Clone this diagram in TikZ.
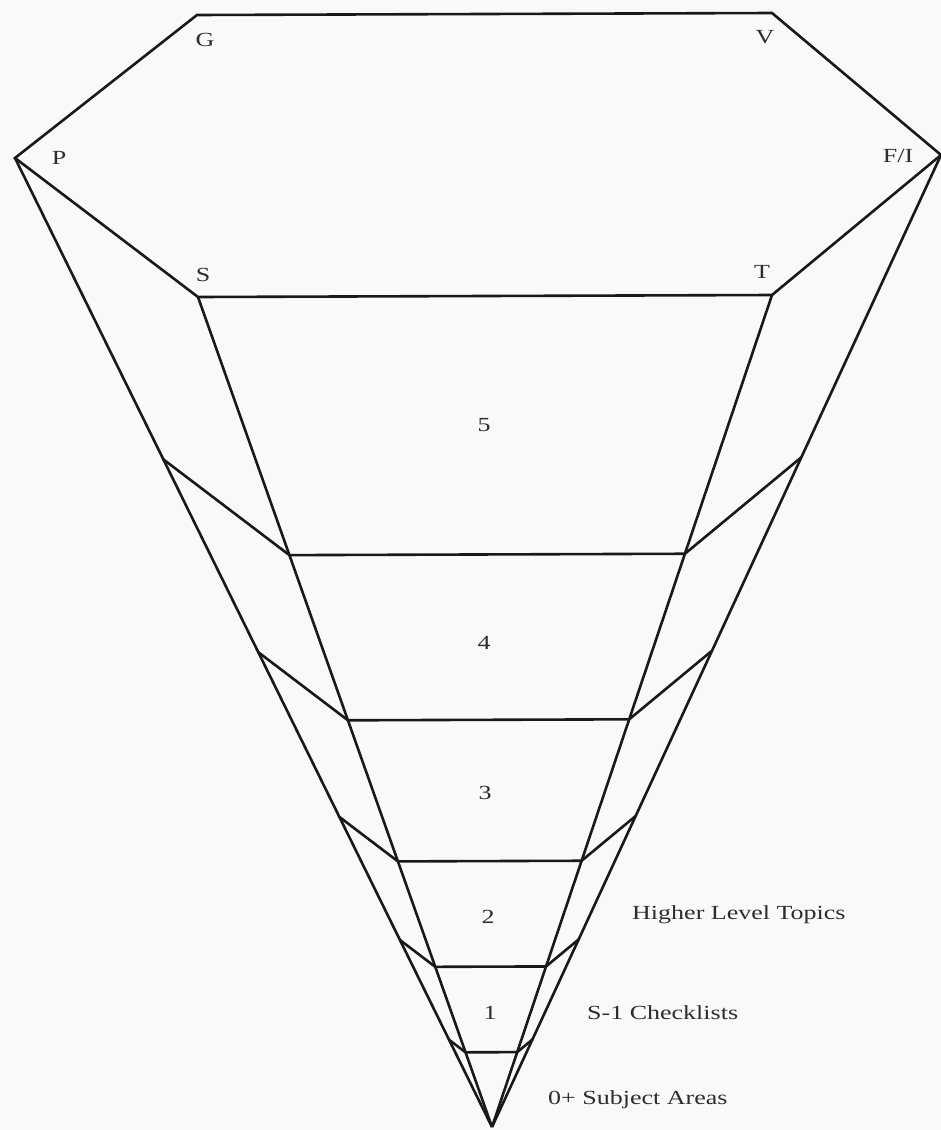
\documentclass[tikz,border=0pt]{standalone}
\usepackage{fontspec}
\setmainfont{Liberation Serif}
\newfontfamily\widefont[FakeStretch=1.3]{Liberation Serif}
\usetikzlibrary{calc}
\definecolor{paper}{RGB}{249,249,249}
\definecolor{ink}{RGB}{25,25,25}
\definecolor{txt}{RGB}{45,45,45}
\begin{document}
\begin{tikzpicture}[x=1pt,y=-1pt,
  edge/.style={line width=2.6pt, line join=miter, ink},
  lbl/.style={font=\widefont\fontsize{20}{24}\selectfont, text=txt, inner sep=0pt}]
\useasboundingbox[fill=paper] (0,0) rectangle (941,1130);
% corners
\coordinate (G) at (197,15);
\coordinate (V) at (772,13);
\coordinate (P) at (15,158);
\coordinate (FI) at (941,155);
\coordinate (S) at (198,297);
\coordinate (T) at (772,295);
\coordinate (A) at (492,1127);
% top face
\draw[edge] (P) -- (G) -- (V) -- (FI) -- (T) -- (S) -- cycle;
% edges to apex
\draw[edge] (P) -- (A);
\draw[edge] (S) -- (A);
\draw[edge] (T) -- (A);
\draw[edge] (FI) -- (A);
% levels
\foreach \s/\n in {0.689/a,0.49/b,0.32/c,0.193/d,0.09/e}{
  \coordinate (P\n) at ($(A)!\s!(P)$);
  \coordinate (S\n) at ($(A)!\s!(S)$);
  \coordinate (T\n) at ($(A)!\s!(T)$);
  \coordinate (F\n) at ($(A)!\s!(FI)$);
  \draw[edge] (P\n) -- (S\n) -- (T\n) -- (F\n);
}
% corner labels
\node[lbl] (lG) at (205,40) {G};
\node[lbl] (lV) at (765,37) {V};
\node[lbl] (lP) at (59,158) {P};
\node[lbl] (lF) at (898,156) {F/I};
\node[lbl] (lS) at (203,275) {S};
\node[lbl] (lT) at (762,272) {T};
% level numbers
\node[lbl] (n5) at (484,425) {5};
\node[lbl] (n4) at (484,643) {4};
\node[lbl] (n3) at (485,793) {3};
\node[lbl] (n2) at (488,917) {2};
\node[lbl] (n1) at (490,1013) {1};
% side texts
\node[lbl, anchor=west] (t1) at (632,915) {Higher Level Topics};
\node[lbl, anchor=west] (t2) at (587,1013) {S-1 Checklists};
\node[lbl, anchor=west] (t3) at (548,1100) {0+ Subject Areas};
\end{tikzpicture}
\end{document}
